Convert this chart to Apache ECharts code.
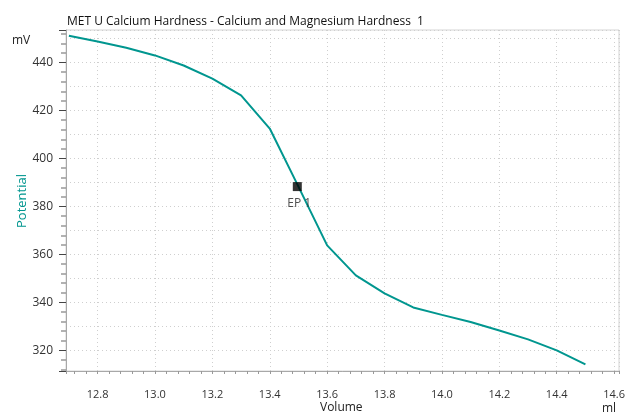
<!DOCTYPE html>
<html>
<head>
<meta charset="utf-8">
<script src="https://cdn.jsdelivr.net/npm/echarts@6/dist/echarts.min.js"></script>
<style>html,body{margin:0;padding:0;background:#fff}#c{width:627px;height:412px}</style>
</head>
<body>
<div id="c"></div>
<script>
var volume = [12.7, 12.8, 12.9, 13.0, 13.1, 13.2, 13.3, 13.4, 13.5, 13.6, 13.7, 13.8, 13.9, 14.0, 14.1, 14.2, 14.3, 14.4, 14.5];
var potential = [451.2, 448.8, 446.2, 443.0, 438.8, 433.3, 426.3, 412.5, 388.3, 363.8, 351.3, 343.8, 337.9, 334.8, 331.8, 328.3, 324.6, 320.0, 314.2];
var epPoint = [13.496, 388.3];
var epLabel = 'EP 1';
var titleText = 'MET U Calcium Hardness - Calcium and Magnesium Hardness  1';

var font = 'Open Sans';
var teal = '#00968f';
var chart = echarts.init(document.getElementById('c'), null, {renderer: 'canvas'});
var lineData = volume.map(function (v, i) { return [v, potential[i]]; });
chart.setOption({
  animation: false,
  textStyle: {fontFamily: font},
  title: {text: titleText, left: 62, top: 11, textStyle: {fontSize: 12, fontWeight: 'normal', color: '#111', fontFamily: font}},
  grid: {left: 66, right: 8, top: 30, bottom: 41, show: true, borderColor: '#d4d4d4', borderWidth: 1, containLabel: false, outerBoundsMode: 'none'},
  xAxis: {
    type: 'value', min: 12.69, max: 14.617, minInterval: 0.2, maxInterval: 0.2,
    axisLine: {lineStyle: {color: '#a8a8a8'}},
    axisTick: {show: true, length: 3, lineStyle: {color: '#999'}},
    minorTick: {show: true, splitNumber: 5, length: 3, lineStyle: {color: '#999'}},
    axisLabel: {color: '#333', fontSize: 11, margin: 18, formatter: function (v) { return v.toFixed(1); }, showMinLabel: false, showMaxLabel: false, hideOverlap: false},
    splitLine: {show: true, lineStyle: {color: '#cfcfcf', type: [1, 3]}}
  },
  yAxis: [{
    type: 'value', min: 311.4, max: 453.6, minInterval: 20, maxInterval: 20,
    axisLine: {show: true, lineStyle: {color: '#a8a8a8'}},
    axisTick: {show: true, length: 7, lineStyle: {color: '#444'}},
    minorTick: {show: true, splitNumber: 5, length: 5, lineStyle: {color: '#999', width: 1.5}},
    axisLabel: {color: '#333', fontSize: 12, margin: 13, showMinLabel: false, showMaxLabel: false},
    splitLine: {show: false}
  }, {
    type: 'value', min: 311.4, max: 453.6, minInterval: 10, maxInterval: 10, position: 'left',
    axisLine: {show: false}, axisTick: {show: false}, axisLabel: {show: false},
    splitLine: {show: true, lineStyle: {color: '#cfcfcf', type: [1, 3]}}
  }],
  graphic: [
    {type: 'text', x: 12, y: 35, style: {text: 'mV', font: '12px ' + font, fill: '#222'}},
    {type: 'text', x: 16, y: 228, rotation: Math.PI / 2, style: {text: 'Potential', font: '13px ' + font, fill: teal, textAlign: 'left', textVerticalAlign: 'top'}},
    {type: 'text', x: 320, y: 402, style: {text: 'Volume', font: '12px ' + font, fill: '#222'}},
    {type: 'text', x: 602, y: 403, style: {text: 'ml', font: '12px ' + font, fill: '#222'}}
  ],
  series: [{
    type: 'line', data: lineData, showSymbol: false, symbol: 'none', z: 2,
    lineStyle: {color: teal, width: 2}, clip: true
  }, {
    type: 'scatter', data: [epPoint], symbol: 'rect', symbolSize: 9, z: 5,
    itemStyle: {color: '#000'},
    label: {show: true, position: 'bottom', distance: 6, offset: [2, 0], formatter: epLabel, color: '#222', fontSize: 12, fontFamily: font}
  }]
});
</script>
</body>
</html>
